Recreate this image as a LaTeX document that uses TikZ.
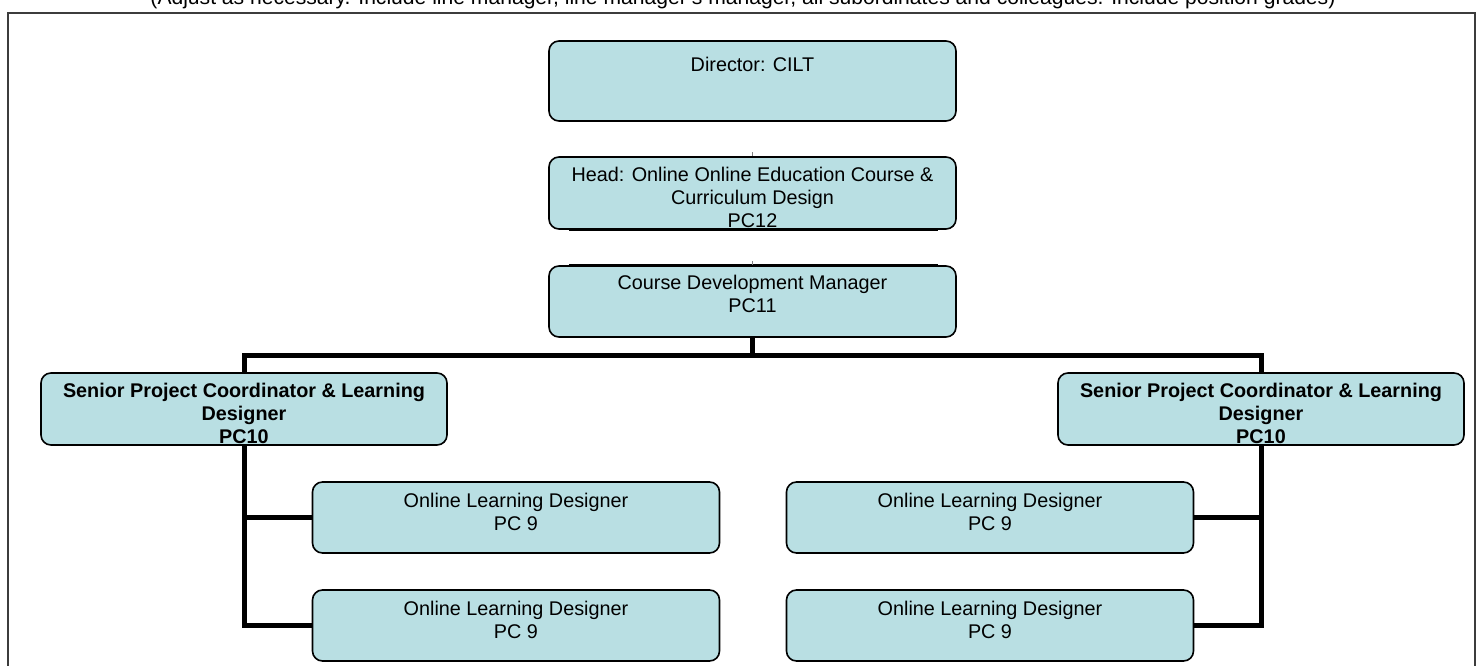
\documentclass[tikz,border=0pt]{standalone}
\usepackage{fontspec}
\setmainfont{Liberation Sans}
\usetikzlibrary{calc}
\definecolor{boxfill}{RGB}{185,223,227}
\definecolor{framegray}{RGB}{60,60,60}
\begin{document}
\begin{tikzpicture}[x=1pt,y=-1pt,
  box/.style={draw=black, line width=1.6pt, rounded corners=10pt, fill=boxfill,
    minimum width=407pt, minimum height=71pt, inner sep=0pt},
  lbl/.style={anchor=north, align=center, inner sep=0pt, font=\fontsize{19.8}{23}\selectfont},
  boldlbl/.style={lbl, font=\fontsize{19.8}{23}\selectfont\bfseries},
  conn/.style={line width=5pt},
  stub/.style={line width=2.6pt},
  tick/.style={draw=gray, line width=0.8pt}]
\useasboundingbox (0,0) rectangle (1481,666);
% outer frame and cut-off heading
\draw[framegray, line width=1.4pt] (1475,700) -- (1475,13) -- (8,13) -- (8,700);
\node[anchor=base, inner sep=0pt, font=\fontsize{21.1}{24}\selectfont] (note) at (743,5)
  {(Adjust as necessary. Include line manager, line manager's manager, all subordinates and colleagues. Include position grades)};
% boxes
\node[box, minimum height=80pt] (dir) at (752.5,81) {};
\node[box, minimum height=72pt] (head) at (752.5,193) {};
\node[box] (cdm) at (752.5,301.5) {};
\node[box, minimum width=406pt, minimum height=72pt] (sl) at (244,409) {};
\node[box, minimum width=406pt, minimum height=72pt] (sr) at (1261,409) {};
\node[box] (o1) at (516,517.5) {};
\node[box] (o2) at (516,625.5) {};
\node[box] (o3) at (990,517.5) {};
\node[box] (o4) at (990,625.5) {};
% labels
\node[lbl] (tdir) at ($(dir.north)+(0,17)$) {Director: CILT};
\node[lbl] (thead) at ($(head.north)+(0,10.5)$) {Head: Online Online Education Course \&\\Curriculum Design\\PC12};
\node[lbl] (tcdm) at ($(cdm.north)+(0,9.5)$) {Course Development Manager\\PC11};
\node[boldlbl] (tsl) at ($(sl.north)+(0,10.5)$) {Senior Project Coordinator \& Learning\\Designer\\PC10};
\node[boldlbl] (tsr) at ($(sr.north)+(0,10.5)$) {Senior Project Coordinator \& Learning\\Designer\\PC10};
\node[lbl] (to1) at ($(o1.north)+(0,11.5)$) {Online Learning Designer\\PC 9};
\node[lbl] (to2) at ($(o2.north)+(0,11.5)$) {Online Learning Designer\\PC 9};
\node[lbl] (to3) at ($(o3.north)+(0,11.5)$) {Online Learning Designer\\PC 9};
\node[lbl] (to4) at ($(o4.north)+(0,11.5)$) {Online Learning Designer\\PC 9};
% stubs and ticks
\draw[stub] ($(head.south west)+(21,0)$) -- ($(head.south east)+(-19,0)$);
\draw[stub] ($(cdm.north west)+(21,0)$) -- ($(cdm.north east)+(-19,0)$);
\draw[tick] ($(head.north)+(0,-4)$) -- (head.north);
\draw[tick] ($(cdm.north)+(0,-4)$) -- (cdm.north);
% connectors
\coordinate (bus) at ($(cdm.south)+(0,18)$);
\draw[conn] (cdm.south) -- (bus);
\draw[conn] (sl.north) |- (bus) -| (sr.north);
\draw[conn] (sl.south) |- (o2.west);
\draw[conn] (sl.south |- o1.west) -- (o1.west);
\draw[conn] (sr.south) |- (o4.east);
\draw[conn] (sr.south |- o3.east) -- (o3.east);
\end{tikzpicture}
\end{document}
